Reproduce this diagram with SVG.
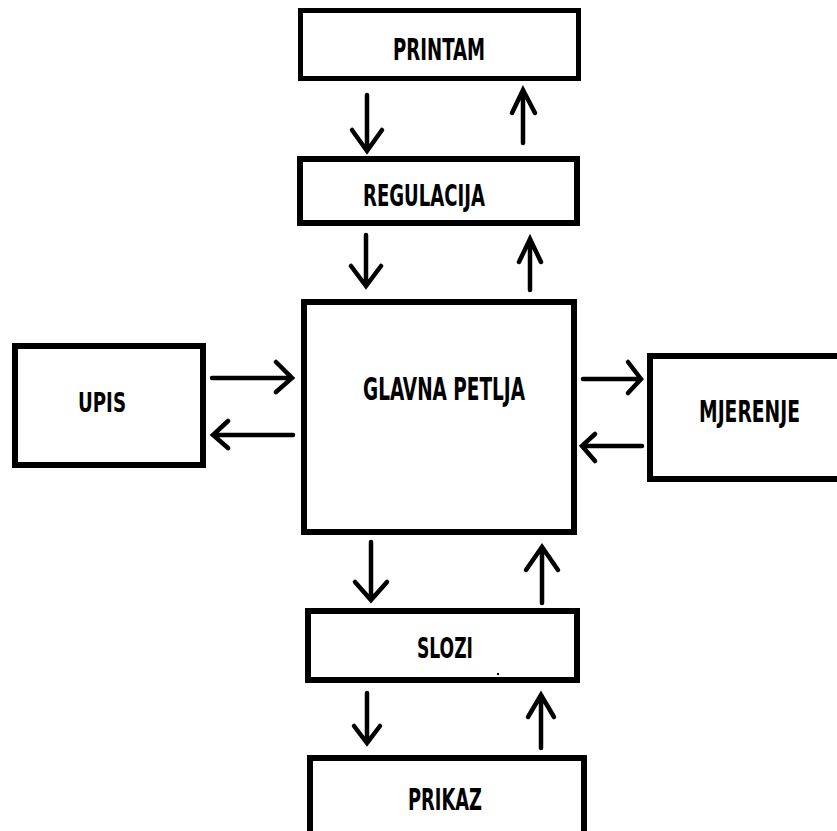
<svg xmlns="http://www.w3.org/2000/svg" width="837" height="831" viewBox="0 0 837 831">
<style>
.box{fill:#fff;stroke:#000;stroke-width:6}
.lbl{font-family:"DejaVu Sans Condensed","Liberation Sans Narrow","Liberation Sans",sans-serif;font-weight:bold;font-size:30px;fill:#000;text-anchor:middle}
.arr{fill:none;stroke:#000;stroke-width:4.5;stroke-linecap:round;stroke-linejoin:miter}
</style>
<rect width="837" height="831" fill="#fff"/>
<g id="printam"><rect class="box" x="300.5" y="10.5" width="278" height="68" style="stroke-width:5"/><text class="lbl" x="439" y="60" textLength="92" lengthAdjust="spacingAndGlyphs">PRINTAM</text></g>
<g id="regulacija"><rect class="box" x="300" y="159" width="277" height="64"/><text class="lbl" x="424" y="206" textLength="122" lengthAdjust="spacingAndGlyphs">REGULACIJA</text></g>
<g id="glavna"><rect class="box" x="304" y="302" width="270" height="230"/><text class="lbl" x="444" y="400" style="font-size:31.5px" textLength="162" lengthAdjust="spacingAndGlyphs">GLAVNA PETLJA</text></g>
<g id="upis"><rect class="box" x="15" y="346" width="188" height="119"/><text class="lbl" x="102" y="412" style="font-size:27px" textLength="48" lengthAdjust="spacingAndGlyphs">UPIS</text></g>
<g id="mjerenje"><path class="box" d="M837 356H650V479H837"/><text class="lbl" x="749.5" y="422" style="font-size:31px" textLength="101" lengthAdjust="spacingAndGlyphs">MJERENJE</text></g>
<g id="slozi"><rect class="box" x="308" y="611" width="269" height="69"/><text class="lbl" x="445" y="658" style="font-size:29px" textLength="56" lengthAdjust="spacingAndGlyphs">SLOZI</text><rect x="497" y="673" width="2" height="2" fill="#000"/></g>
<g id="prikaz"><path class="box" d="M310 831V758H584V831"/><text class="lbl" x="445" y="810" textLength="74" lengthAdjust="spacingAndGlyphs">PRIKAZ</text></g>
<g id="connectors">
<path class="arr" d="M367 95V151M352 130L367 151L382 130"/>
<path class="arr" d="M523 143V90M512 113L523 90L535 113"/>
<path class="arr" d="M366 235V286M351 266L366 286L381 266"/>
<path class="arr" d="M530 290V239M519 262L530 239L541 262"/>
<path class="arr" d="M212 378H292M276 362L292 378L276 392"/>
<path class="arr" d="M293 435H213M228 421L213 435L228 448"/>
<path class="arr" d="M583 379H641M628 362L641 379L628 393"/>
<path class="arr" d="M642 446H582M595 434L582 446L595 461"/>
<path class="arr" d="M371 542V600M355 582L371 600L387 582"/>
<path class="arr" d="M542 603V547M526 570L542 547L558 570"/>
<path class="arr" d="M367 693V743M354 726L367 743L380 726"/>
<path class="arr" d="M541 748V695M528 717L541 695L554 717"/>
</g>
</svg>
